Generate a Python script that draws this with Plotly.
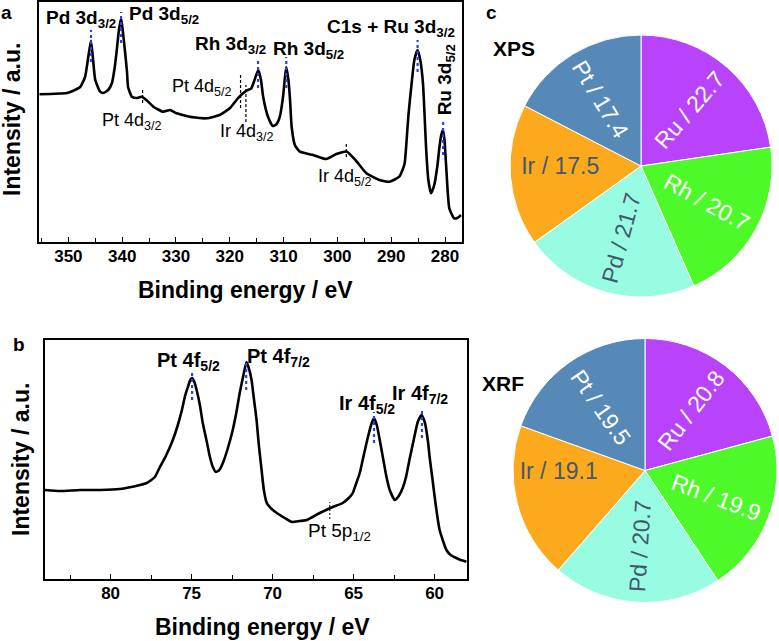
import plotly.graph_objects as go

# ---------------- data ----------------
# panel a: survey-region spectrum (binding energy eV, intensity a.u.)
a_ev = [355.4, 353.4, 351.5, 350.2, 348.8, 347.8, 346.9, 346.3, 345.8, 345.4, 345.0, 344.1, 343.5, 342.6,
        341.9, 341.4, 341.0, 340.6, 340.2, 339.9, 339.5, 339.1, 338.9, 338.2, 337.3, 336.4, 335.5, 334.2,
        332.4, 331.1, 329.9, 326.8, 324.3, 321.9, 320.0, 318.5, 316.9, 316.0, 315.4, 314.7, 314.2, 313.8,
        312.9, 312.0, 311.3, 310.7, 310.1, 309.8, 309.5, 309.1, 308.8, 308.5, 307.9, 307.0, 304.5, 302.1,
        300.2, 298.3, 296.5, 294.6, 292.2, 290.3, 288.5, 287.9, 287.5, 287.2, 286.8, 286.2, 285.7, 285.1,
        284.6, 284.1, 283.8, 283.5, 283.1, 282.6, 282.0, 281.4, 281.1, 280.7, 280.4, 280.1, 279.8, 279.2,
        278.3, 277.7, 277.0]
a_int = [147.7, 148, 148.5, 149, 152, 155, 165, 185, 201.3, 182, 162, 150.3, 149, 152,
         159, 174, 192, 212, 223.7, 212, 192, 170, 155, 145.3, 144, 145.3, 142, 135.3,
         130.3, 132, 128.7, 124.7, 123.7, 127, 133.7, 143.7, 151.3, 153.7, 162, 172, 162, 145.3,
         125.3, 116, 118, 125.3, 145.3, 162, 175, 162, 142, 115, 97, 90.3, 87, 83,
         88, 90.5, 81, 68.7, 62, 60.3, 65.3, 72, 78.7, 97, 127, 159, 182, 192,
         182, 159, 127, 92, 62, 48.7, 57, 77, 92, 107, 112, 102, 77, 33.7,
         23.7, 24, 27]

# panel b: Pt 4f / Ir 4f region
b_ev = [84.05, 83.13, 81.89, 80.66, 79.43, 78.19, 77.76, 77.27, 76.96, 76.59, 76.16, 75.85, 75.60, 75.39,
        75.23, 75.08, 74.97, 74.83, 74.69, 74.49, 74.31, 74.06, 73.87, 73.69, 73.50, 73.29, 73.07, 72.76,
        72.46, 72.21, 72.03, 71.76, 71.61, 71.47, 71.30, 71.16, 70.99, 70.85, 70.68, 70.54, 70.36, 70.05,
        69.74, 69.25, 68.82, 68.32, 67.89, 67.09, 66.29, 65.67, 65.24, 65.05, 64.81, 64.62, 64.37, 64.13,
        63.88, 63.74, 63.57, 63.33, 63.14, 62.97, 62.77, 62.46, 62.21, 61.97, 61.78, 61.53, 61.29, 61.04,
        60.81, 60.61, 60.42, 60.30, 60.14, 59.93, 59.69, 59.27, 59.01, 58.66, 58.39, 58.04]
b_int = [89, 88, 89, 89, 90, 94, 96, 102, 112, 123, 139, 154, 169, 184,
         192, 199, 201, 197, 189, 174, 156, 137, 122, 112, 107, 109, 116, 131,
         149, 169, 186, 207, 217, 211, 199, 181, 159, 134, 109, 89, 76, 70,
         66, 61, 57, 58, 59, 66, 72, 76, 82, 86, 97, 106, 124, 141,
         156, 161, 154, 134, 117, 102, 89, 79, 83, 91, 101, 121, 139, 157,
         164, 157, 139, 121, 101, 74, 49, 29, 24, 21, 19, 17.3]

# peak markers (position eV, top, bottom of the marker)
a_main_peaks = [345.8, 340.2, 314.75, 309.5, 285.1, 280.35]
a_main_top = [212, 230, 184, 185, 202, 120]
a_main_bot = [180, 199, 154, 154, 170, 87]
a_minor_peaks = [318.0, 317.0, 336.2, 298.35]
a_minor_top = [167, 157, 152, 100]
a_minor_bot = [134, 120, 139, 85]

b_main_peaks = [74.97, 71.63, 63.74, 60.78]
b_main_top = [209, 219, 167, 171]
b_main_bot = [179, 189, 136, 141]
b_minor_peaks = [66.47]
b_minor_top = [77]
b_minor_bot = [60]

# labels: (text, eV, intensity, bold, angle)
a_labels = [
    ("Pd 3d<sub>3/2</sub>", 347.57, 223, True, 0),
    ("Pd 3d<sub>5/2</sub>", 332.3, 227, True, 0),
    ("Rh 3d<sub>3/2</sub>", 319.9, 197, True, 0),
    ("Rh 3d<sub>5/2</sub>", 305.34, 192, True, 0),
    ("C1s + Ru 3d<sub>3/2</sub>", 290.13, 214, True, 0),
    ("Ru 3d<sub>5/2</sub>", 279.75, 162, True, -90),
    ("Pt 4d<sub>5/2</sub>", 325.1, 155, False, 0),
    ("Pt 4d<sub>3/2</sub>", 338.09, 121, False, 0),
    ("Ir 4d<sub>3/2</sub>", 316.75, 110, False, 0),
    ("Ir 4d<sub>5/2</sub>", 298.66, 65, False, 0),
]
b_labels = [
    ("Pt 4f<sub>5/2</sub>", 75.2, 218, True),
    ("Pt 4f<sub>7/2</sub>", 69.66, 221.5, True),
    ("Ir 4f<sub>5/2</sub>", 64.19, 175, True),
    ("Ir 4f<sub>7/2</sub>", 60.92, 185, True),
    ("Pt 5p<sub>1/2</sub>", 65.85, 47.5, False),
]

elements = ["Ru", "Rh", "Pd", "Ir", "Pt"]
xps_values = [22.7, 20.7, 21.7, 17.5, 17.4]
xrf_values = [20.8, 19.9, 20.7, 19.1, 19.5]
slice_colors = ["#B843FA", "#4EF92A", "#98FCE3", "#FCA91E", "#5789B8"]
label_colors = ["white", "white", "#44596B", "#44596B", "white"]

FONT = "Liberation Sans, Arial, sans-serif"
W, H = 779, 641

fig = go.Figure()

fig.add_trace(go.Scatter(x=a_ev, y=a_int, mode="lines", xaxis="x", yaxis="y",
                         line=dict(color="black", width=2.6, shape="spline", smoothing=0.5),
                         hoverinfo="skip", showlegend=False))
fig.add_trace(go.Scatter(x=b_ev, y=b_int, mode="lines", xaxis="x2", yaxis="y2",
                         line=dict(color="black", width=2.6, shape="spline", smoothing=0.5),
                         hoverinfo="skip", showlegend=False))

for vals, dom in ((xps_values, dict(x=[510 / W, 772 / W], y=[1 - 297 / H, 1 - 35 / H])),
                  (xrf_values, dict(x=[513 / W, 777 / W], y=[1 - 603 / H, 1 - 338 / H]))):
    fig.add_trace(go.Pie(
        labels=elements, values=vals, sort=False, direction="clockwise", rotation=0,
        text=[f"{e} / {v}" for e, v in zip(elements, vals)], textinfo="text",
        textposition="inside", insidetextorientation="radial",
        insidetextfont=dict(family=FONT, size=23, color=label_colors),
        marker=dict(colors=slice_colors, line=dict(color="white", width=1)),
        domain=dom, hoverinfo="skip", showlegend=False))

shapes = []
def add_markers(peaks, tops, bots, xr, yr, color, dash, width):
    for p, t, b in zip(peaks, tops, bots):
        shapes.append(dict(type="line", xref=xr, yref=yr, x0=p, x1=p, y0=b, y1=t,
                           line=dict(color=color, width=width, dash=dash)))

add_markers(a_main_peaks, a_main_top, a_main_bot, "x", "y", "#2a3cff", "dot", 2.2)
add_markers(a_minor_peaks, a_minor_top, a_minor_bot, "x", "y", "black", "3px,2px", 1.2)
add_markers(b_main_peaks, b_main_top, b_main_bot, "x2", "y2", "#2a3cff", "dot", 2.2)
add_markers(b_minor_peaks, b_minor_top, b_minor_bot, "x2", "y2", "black", "2px,2px", 1.0)

annotations = []
for txt, x, y, bold, ang in a_labels:
    annotations.append(dict(text=f"<b>{txt}</b>" if bold else txt, x=x, y=y, xref="x", yref="y",
                            showarrow=False, textangle=ang, xanchor="center", yanchor="middle",
                            font=dict(family=FONT, size=19 if bold else 18, color="black")))
for txt, x, y, bold in b_labels:
    annotations.append(dict(text=f"<b>{txt}</b>" if bold else txt, x=x, y=y, xref="x2", yref="y2",
                            showarrow=False, xanchor="center", yanchor="middle",
                            font=dict(family=FONT, size=20 if bold else 19, color="black")))

def paper_text(txt, px, py, size, angle=0):
    annotations.append(dict(text=f"<b>{txt}</b>", x=px / W, y=1 - py / H, xref="paper", yref="paper",
                            showarrow=False, textangle=angle, xanchor="center", yanchor="middle",
                            font=dict(family=FONT, size=size, color="black")))

paper_text("a", 6, 13, 19)
paper_text("b", 19, 344, 19)
paper_text("c", 491, 12, 19)
paper_text("XPS", 514, 48, 21)
paper_text("XRF", 503, 383, 21)
paper_text("Binding energy / eV", 245, 290, 23)
paper_text("Binding energy / eV", 262, 627, 23)
paper_text("Intensity / a.u.", 12, 120, 23, -90)
paper_text("Intensity / a.u.", 21, 460, 23, -90)

xcommon = dict(showline=True, linecolor="black", linewidth=1.5, mirror=True, showgrid=False,
               zeroline=False, ticks="inside", ticklen=5, tickwidth=1.2, tickcolor="black",
               tickfont=dict(family=FONT, size=17, color="black", weight="bold"),
               ticklabelstandoff=-2)
ycommon = dict(showline=True, linecolor="black", linewidth=1.5, mirror=True, showgrid=False,
               zeroline=False, showticklabels=False, ticks="")

fig.update_layout(
    width=W, height=H, margin=dict(l=0, r=0, t=0, b=0),
    paper_bgcolor="white", plot_bgcolor="white",
    xaxis=dict(domain=[39.3 / W, 461.7 / W], range=[355.4, 276.9], anchor="y",
               tick0=350, dtick=10, minor=dict(dtick=5, ticks="inside", ticklen=4, tickwidth=1.2,
                                               tickcolor="black"), **xcommon),
    yaxis=dict(domain=[1 - 242 / H, 1 - 2 / H], range=[0, 240], anchor="x", **ycommon),
    xaxis2=dict(domain=[45 / W, 467 / W], range=[84.05, 58.0], anchor="y2",
                tick0=80, dtick=5, minor=dict(dtick=2.5, ticks="inside", ticklen=4, tickwidth=1.2,
                                              tickcolor="black"), **xcommon),
    yaxis2=dict(domain=[1 - 579 / H, 1 - 340 / H], range=[0, 239], anchor="x2", **ycommon),
    shapes=shapes, annotations=annotations,
)

fig.write_html("out.html", config={"displayModeBar": False},
               post_script="document.body.style.margin='0';")
